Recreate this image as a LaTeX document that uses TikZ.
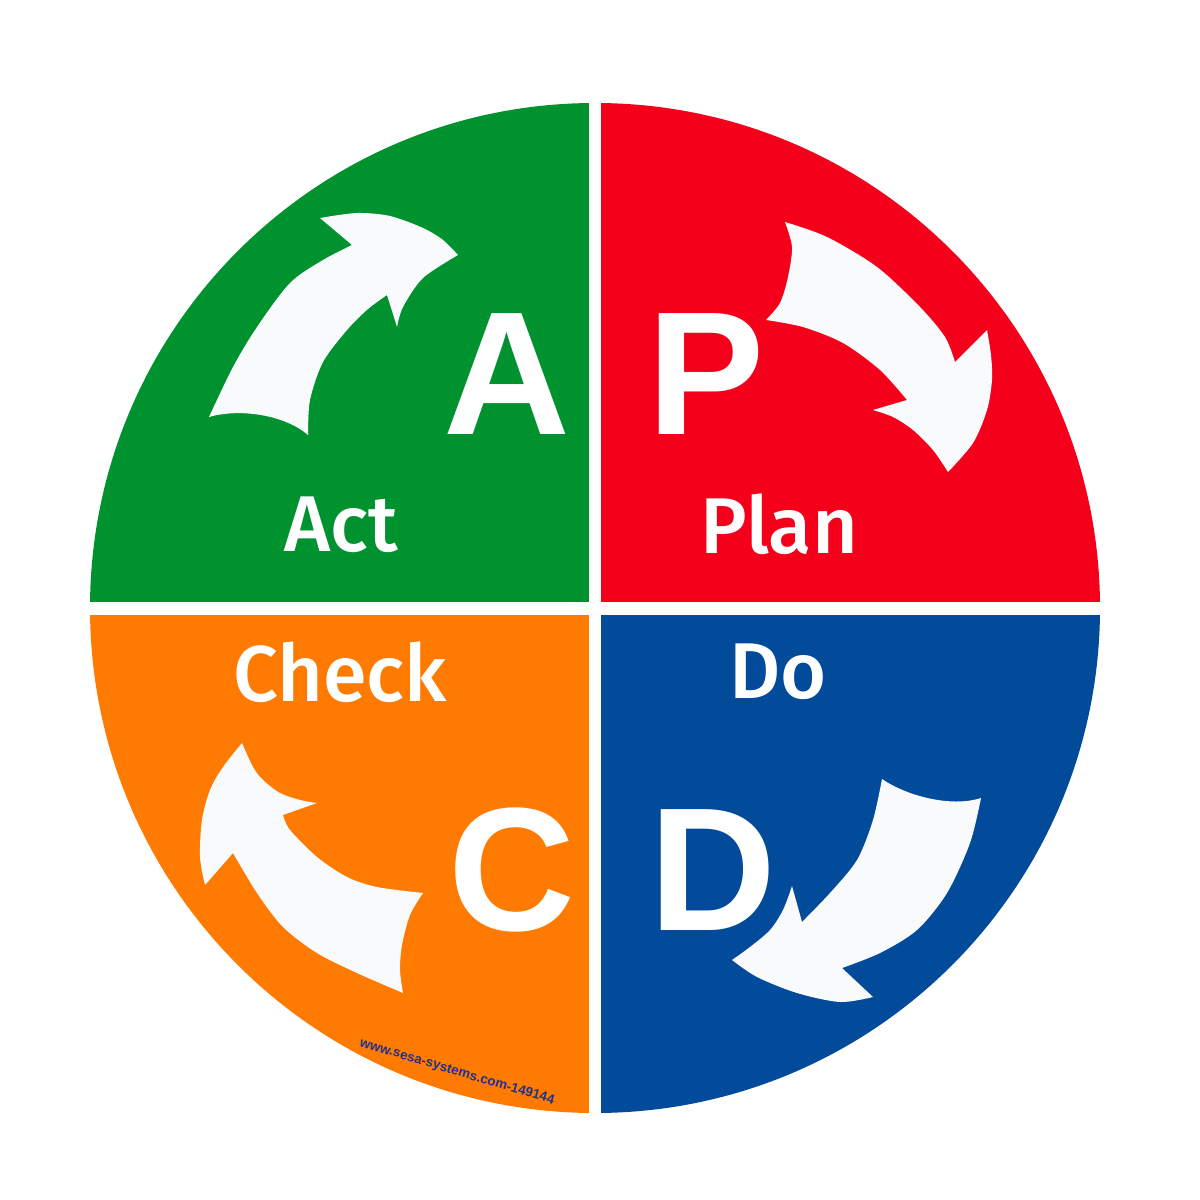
\documentclass[tikz,border=0pt]{standalone}
\usepackage{fontspec}
\setmainfont{Liberation Sans}
\newfontfamily\labfont{Fira Sans Medium}
\usetikzlibrary{positioning}

\definecolor{actgreen}{RGB}{0,146,46}
\definecolor{planred}{RGB}{245,0,26}
\definecolor{checkorange}{RGB}{255,122,0}
\definecolor{doblue}{RGB}{2,74,154}
\definecolor{arrowwhite}{RGB}{248,250,252}
\definecolor{urlblue}{RGB}{30,50,140}

\begin{document}
\begin{tikzpicture}[x=0.1mm, y=-0.1mm,
  arrowfill/.style={fill=arrowwhite},
  bigletter/.style={inner sep=0pt, text=white, font=\fontsize{50}{50}\selectfont\bfseries},
  steplabel/.style={inner sep=0pt, text=white, font=\fontsize{22.5}{24}\selectfont\labfont}]

\useasboundingbox (0,0) rectangle (1200,1200);
\fill[white] (0,0) rectangle (1200,1200);

% the four quarters
\begin{scope}
\clip (595,608) circle (505);
\fill[actgreen] (0,0) rectangle (589,602);
\fill[planred] (601,0) rectangle (1200,602);
\fill[checkorange] (0,615) rectangle (589,1200);
\fill[doblue] (601,615) rectangle (1200,1200);
\end{scope}

% Act arrow
\fill[arrowfill] (209,417) .. controls (240,408) and (285,415) .. (308,435)
  -- plot[smooth] coordinates {(308,435) (310,400) (323,362) (347,330) (368,309) (387,295)}
  -- (397,327)
  -- plot[smooth] coordinates {(397,327) (403,307) (423,278) (458,255)}
  -- plot[smooth] coordinates {(458,255) (443,240) (423,228) (390,216) (357,213) (320,218)}
  -- (352,245)
  -- plot[smooth] coordinates {(352,245) (323,260) (290,283) (257,327) (233,367) (209,417)}
  -- cycle;

% Plan arrow
\fill[arrowfill] (785,222)
  -- plot[smooth] coordinates {(785,222) (827,237) (877,267) (920,307) (945,337) (955,362)}
  -- (987,330)
  -- plot[smooth] coordinates {(987,330) (991,355) (992,380) (987,410) (973,443) (948,472)}
  -- plot[smooth] coordinates {(948,472) (933,450) (913,430) (893,417) (873,410)}
  -- (907,400)
  -- plot[smooth] coordinates {(907,400) (880,370) (843,343) (803,327) (766,320)}
  -- plot[smooth] coordinates {(766,320) (780,303) (788,277) (792,247) (785,222)}
  -- cycle;

% Do arrow
\fill[arrowfill] (882,779) .. controls (905,795) and (950,808) .. (981,798)
  -- plot[smooth] coordinates {(981,798) (970,843) (947,893) (917,930) (880,953) (842,968)}
  -- (873,997)
  -- plot[smooth] coordinates {(873,997) (840,1002) (797,993) (757,977) (732,960)}
  -- plot[smooth] coordinates {(732,960) (750,947) (770,930) (783,910) (792,886)}
  -- (802,922)
  -- plot[smooth] coordinates {(802,922) (830,893) (857,860) (873,820) (882,779)}
  -- cycle;

% Check arrow
\fill[arrowfill] (423,893)
  -- plot[smooth] coordinates {(423,893) (410,915) (402,945) (400,970) (403,993)}
  -- plot[smooth] coordinates {(403,993) (357,973) (317,953) (283,927) (257,893) (233,853)}
  -- (205,885)
  -- plot[smooth] coordinates {(205,885) (200,857) (202,820) (210,790) (223,767) (242,743)}
  -- plot[smooth] coordinates {(242,743) (253,767) (263,780) (280,793) (300,800) (317,803)}
  -- (283,815)
  -- plot[smooth] coordinates {(283,815) (290,830) (317,857) (347,877) (377,887) (423,893)}
  -- cycle;

% letters
\node[bigletter] (letA) at (507,374) {A};
\node[bigletter] (letP) at (706,374) {P};
\node[bigletter] (letC) at (512,870) {C};
\node[bigletter] (letD) at (713,870) {D};

\node[steplabel] (act) at (341,525) {Act};
\node[steplabel] (plan) at (779,524) {Plan};
\node[steplabel] (check) at (340,672) {Check};
\node[steplabel] (do) at (778,672) {Do};

\node[inner sep=0pt, rotate=-16.7, text=urlblue, font=\fontsize{3.8}{4}\selectfont\bfseries] (url) at (457,1072) {www.sesa-systems.com-149144};

\end{tikzpicture}
\end{document}
